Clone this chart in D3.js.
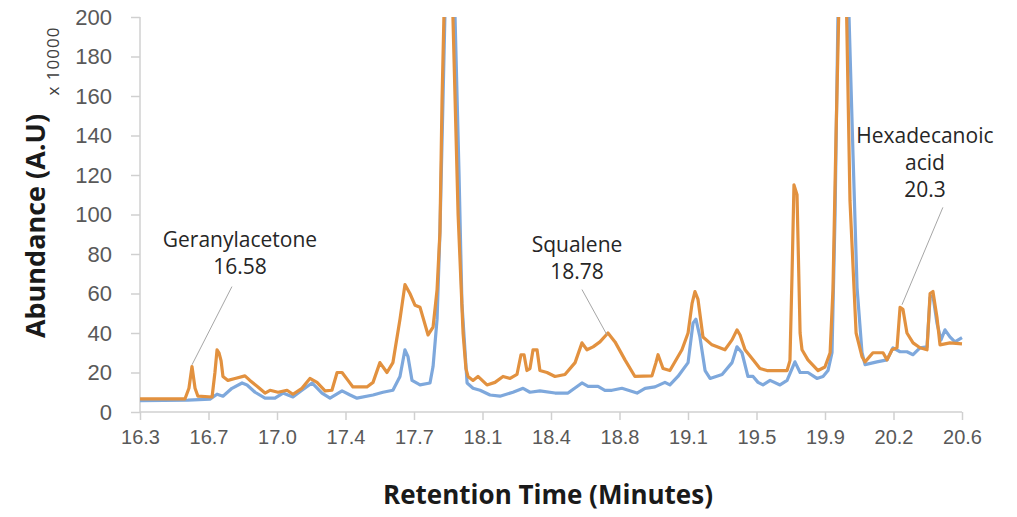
<!DOCTYPE html>
<html>
<head>
<meta charset="utf-8">
<script src="https://cdn.jsdelivr.net/npm/d3@7"></script>
<style>
  body { margin: 0; background: #fff; }
  svg { font-family: "Open Sans", sans-serif; }
  .axis path, .axis line { stroke: #d0d0d0; stroke-width: 1.5; }
  .axis text { fill: #595959; font-size: 20px; }
  .axis.y text { font-size: 22px; }
</style>
</head>
<body>
<div id="graph"></div>
<script>
// retention time (min), abundance (x 10000)
var orangeTrace = [
  [16.300, 6.6], [16.535, 6.6], [16.556, 12], [16.572, 23], [16.588, 12], [16.603, 8],
  [16.677, 7.6], [16.692, 20], [16.703, 31.5], [16.713, 30], [16.724, 26], [16.734, 18],
  [16.760, 16], [16.797, 17], [16.849, 18.3], [16.875, 16], [16.917, 12.7], [16.954, 9.6],
  [16.980, 11], [17.022, 10], [17.069, 11], [17.100, 9], [17.147, 12], [17.189, 17],
  [17.226, 15], [17.268, 10.7], [17.304, 11], [17.331, 20], [17.357, 20], [17.388, 16],
  [17.414, 12.7], [17.487, 12.7], [17.519, 15], [17.555, 25], [17.592, 20], [17.623, 25],
  [17.660, 47], [17.686, 64.5], [17.712, 60], [17.739, 54], [17.765, 53], [17.807, 39],
  [17.833, 43], [17.854, 62], [17.869, 91], [17.880, 158], [17.911, 290], [17.937, 200],
  [17.964, 100], [17.990, 40], [18.005, 22], [18.016, 18], [18.042, 16], [18.068, 18],
  [18.115, 13.7], [18.157, 15], [18.199, 18], [18.236, 17], [18.272, 19], [18.293, 29],
  [18.309, 29], [18.324, 21], [18.340, 22], [18.356, 31.5], [18.377, 31.5], [18.392, 21],
  [18.429, 20], [18.471, 18], [18.523, 19], [18.576, 25], [18.612, 35], [18.638, 31.5],
  [18.670, 33], [18.706, 35.5], [18.748, 40], [18.785, 35.5], [18.837, 26.4], [18.889, 18],
  [18.978, 18.3], [18.999, 25], [19.010, 29], [19.036, 22], [19.072, 21], [19.135, 31.5],
  [19.167, 40], [19.188, 55], [19.203, 61], [19.219, 57], [19.245, 38], [19.292, 34],
  [19.360, 31.5], [19.397, 36.5], [19.423, 41.6], [19.439, 39], [19.465, 31.5], [19.507, 26.4],
  [19.543, 22], [19.580, 21], [19.685, 21], [19.700, 26], [19.711, 70], [19.721, 115],
  [19.737, 110], [19.753, 40], [19.763, 31.5], [19.794, 26.4], [19.847, 21], [19.883, 22.8],
  [19.910, 30], [19.925, 62], [19.941, 140], [19.978, 300], [20.014, 107], [20.046, 40],
  [20.077, 28], [20.093, 25.4], [20.134, 30], [20.187, 30], [20.208, 26.4], [20.234, 31.5],
  [20.260, 32.5], [20.276, 53], [20.291, 52], [20.312, 40], [20.344, 35], [20.380, 32.5],
  [20.417, 31.5], [20.433, 60], [20.448, 61], [20.469, 48], [20.485, 34], [20.537, 35],
  [20.600, 34.5]
];

var blueTrace = [
  [16.300, 5.7], [16.551, 6], [16.666, 6.5], [16.703, 9], [16.734, 8], [16.781, 12],
  [16.834, 14.7], [16.860, 13.7], [16.902, 10], [16.954, 7], [17.006, 7], [17.048, 9.6],
  [17.100, 7.6], [17.147, 11], [17.200, 14.7], [17.252, 9.6], [17.294, 7], [17.357, 10.7],
  [17.399, 8.6], [17.435, 7], [17.519, 8.6], [17.571, 10], [17.623, 11], [17.660, 18],
  [17.686, 31.5], [17.702, 28], [17.723, 16], [17.765, 13.7], [17.817, 14.7], [17.833, 23],
  [17.854, 47], [17.869, 91], [17.885, 158], [17.916, 290], [17.948, 200], [17.969, 120],
  [17.984, 55], [18.011, 14.7], [18.042, 12], [18.079, 11], [18.131, 8.6], [18.183, 8],
  [18.251, 10], [18.304, 12], [18.340, 10], [18.392, 10.7], [18.471, 9.6], [18.539, 9.6],
  [18.612, 14.7], [18.644, 13], [18.696, 13], [18.732, 11], [18.769, 11], [18.821, 12],
  [18.900, 9.6], [18.942, 12], [18.994, 12.7], [19.046, 15], [19.072, 13.7], [19.114, 18],
  [19.167, 25], [19.193, 45], [19.208, 47], [19.229, 38], [19.256, 21], [19.282, 17],
  [19.345, 19], [19.397, 25], [19.423, 33], [19.449, 30], [19.480, 18], [19.507, 18],
  [19.533, 15], [19.559, 13.7], [19.596, 16], [19.648, 13.7], [19.685, 16], [19.726, 25.4],
  [19.753, 20], [19.794, 20], [19.841, 17], [19.873, 18], [19.899, 21], [19.920, 30],
  [19.936, 100], [19.951, 200], [19.983, 300], [20.009, 200], [20.030, 130], [20.051, 63],
  [20.077, 30], [20.093, 24], [20.155, 25.4], [20.208, 26.4], [20.239, 32.5], [20.276, 30.5],
  [20.312, 30.5], [20.344, 29], [20.380, 32.5], [20.417, 33], [20.433, 58], [20.448, 59],
  [20.469, 45], [20.490, 36.5], [20.511, 41.6], [20.537, 38], [20.563, 35.5], [20.600, 37.6]
];

var xTickLabels = ["16.3", "16.7", "17.0", "17.4", "17.7", "18.1", "18.4",
                   "18.8", "19.1", "19.5", "19.9", "20.2", "20.6"];
var yTicks = [0, 20, 40, 60, 80, 100, 120, 140, 160, 180, 200];

// label lines, text anchor (time, value), leader line from / to (time, value)
var peakNotes = [
  { lines: ["Geranylacetone", "16.58"], at: [16.823, 87.3], from: [16.781, 63.5], to: [16.572, 23.9] },
  { lines: ["Squalene", "18.78"], at: [18.586, 84.8], from: [18.612, 62], to: [18.743, 39] },
  { lines: ["Hexadecanoic", "acid", "20.3"], at: [20.406, 139.6], from: [20.50, 103.6], to: [20.286, 54.3] }
];

var width = 1017, height = 517,
  margin = { top: 17, right: 55, bottom: 105, left: 140 },
  w = width - margin.left - margin.right,
  h = height - margin.top - margin.bottom;

var svg = d3.select("#graph").append("svg")
  .attr("width", width).attr("height", height);

var g = svg.append("g")
  .attr("transform", "translate(" + margin.left + "," + margin.top + ")");

var x = d3.scaleLinear().domain([16.3, 20.6]).range([0, w]);
var y = d3.scaleLinear().domain([0, 200]).range([h, 0]);

var xTickVals = xTickLabels.map(function(d, i) {
  return 16.3 + i * (20.6 - 16.3) / (xTickLabels.length - 1);
});

g.append("g").attr("class", "axis y")
  .call(d3.axisLeft(y).tickValues(yTicks).tickSize(9).tickPadding(19));

g.append("g").attr("class", "axis x")
  .attr("transform", "translate(0," + h + ")")
  .call(d3.axisBottom(x).tickValues(xTickVals).tickSize(8).tickPadding(10)
    .tickFormat(function(d, i) { return xTickLabels[i]; }));

g.select(".axis.x .domain").attr("d", "M0,0H" + w);
g.select(".axis.y .domain").attr("d", "M0,0V" + h);

g.append("clipPath").attr("id", "plot")
  .append("rect").attr("x", -5).attr("y", 0).attr("width", w + 10).attr("height", h + 5);

var line = d3.line()
  .x(function(d) { return x(d[0]); })
  .y(function(d) { return y(d[1]); });

var traces = g.append("g").attr("clip-path", "url(#plot)");

traces.append("path").datum(blueTrace)
  .attr("d", line)
  .attr("fill", "none").attr("stroke", "#7ea8dc")
  .attr("stroke-width", 3.2).attr("stroke-linejoin", "round");

traces.append("path").datum(orangeTrace)
  .attr("d", line)
  .attr("fill", "none").attr("stroke", "#e2913f")
  .attr("stroke-width", 3.2).attr("stroke-linejoin", "round");

// peak labels
peakNotes.forEach(function(n) {
  g.append("line")
    .attr("x1", x(n.from[0])).attr("y1", y(n.from[1]))
    .attr("x2", x(n.to[0])).attr("y2", y(n.to[1]))
    .attr("stroke", "#a6a6a6").attr("stroke-width", 1);
  var t = g.append("text")
    .attr("x", x(n.at[0])).attr("y", y(n.at[1]))
    .attr("text-anchor", "middle")
    .attr("fill", "#262626").style("font-size", "21px");
  n.lines.forEach(function(l, i) {
    t.append("tspan").attr("x", x(n.at[0])).attr("dy", i ? 27 : 7).text(l);
  });
});

// axis titles
svg.append("text")
  .attr("x", 548).attr("y", 504)
  .attr("text-anchor", "middle")
  .style("font-size", "26px").style("font-weight", "bold").attr("fill", "#1a1a1a")
  .text("Retention Time (Minutes)");

svg.append("text")
  .attr("transform", "translate(45,226) rotate(-90)")
  .attr("text-anchor", "middle")
  .style("font-size", "27px").style("font-weight", "bold").attr("fill", "#1a1a1a")
  .text("Abundance (A.U)");

svg.append("text")
  .attr("transform", "translate(59,61) rotate(-90)")
  .attr("text-anchor", "middle")
  .style("font-size", "17px").style("letter-spacing", "1px").attr("fill", "#404040")
  .text("x 10000");
</script>
</body>
</html>
